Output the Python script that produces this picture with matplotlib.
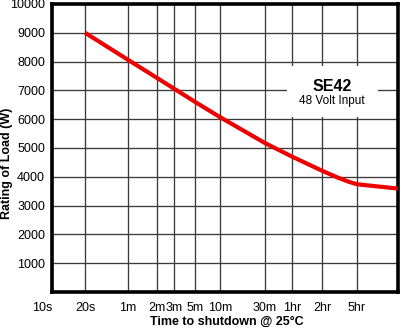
import numpy as np
import matplotlib
matplotlib.use("Agg")
import matplotlib.pyplot as plt
from matplotlib.transforms import ScaledTranslation
from matplotlib.patches import Rectangle

plt.rcParams['font.family'] = ['Liberation Sans', 'DejaVu Sans']

# Runtime (seconds) vs. load rating (W)
time_s = [20, 60, 120, 180, 300, 600, 1800, 3600, 7200, 10800, 14400, 18000, 28800, 43200]
load_w = [9000, 8060, 7430, 7060, 6600, 6070, 5170, 4700, 4210, 3975, 3830, 3740, 3660, 3590]

tick_times = [10, 20, 60, 120, 180, 300, 600, 1800, 3600, 7200, 18000]
tick_labels = ["10s", "20s", "1m", "2m", "3m", "5m", "10m", "30m", "1hr", "2hr", "5hr"]
y_ticks = [1000, 2000, 3000, 4000, 5000, 6000, 7000, 8000, 9000, 10000]

# Time axis: piecewise log scale with hand-tuned spacing between the marks
_knot_t = np.log10([10, 20, 60, 120, 180, 300, 600, 1800, 3600, 7200, 18000, 43200])
_knot_u = np.array([0, 33, 76, 105, 122, 143, 168, 213, 240, 270, 305, 346], float)


def fwd(t):
    t = np.maximum(np.asarray(t, float), 1e-3)
    return np.interp(np.log10(t), _knot_t, _knot_u)


def inv(u):
    return 10 ** np.interp(np.asarray(u, float), _knot_u, _knot_t)


fig = plt.figure(figsize=(4.0, 3.27), dpi=100)
ax = fig.add_axes([0.13, 0.107, 0.865, 0.881])
ax.set_xscale('function', functions=(fwd, inv))
ax.set_xlim(10, 43200)
ax.set_ylim(0, 10000)

ax.set_xticks(tick_times)
ax.set_xticklabels(tick_labels)
ax.set_yticks(y_ticks)
ax.set_yticklabels([str(v) for v in y_ticks])
ax.minorticks_off()
ax.tick_params(axis='both', length=0, labelsize=9, colors='black')
ax.tick_params(axis='x', pad=7)
ax.tick_params(axis='y', pad=5)

# the first time label sits left of the frame
lbl0 = ax.get_xticklabels()[0]
lbl0.set_transform(lbl0.get_transform() + ScaledTranslation(-10 / 100, 0, fig.dpi_scale_trans))

ax.grid(True, color='#3a3a3a', linewidth=0.95)
ax.set_axisbelow(True)

for s in ax.spines.values():
    s.set_linewidth(2.6)
    s.set_color('black')

ax.plot(time_s, load_w, color='#ee0000', linewidth=3.0, solid_joinstyle='round',
        solid_capstyle='butt', zorder=4)

# label panel
ax.add_patch(Rectangle((0.679, 0.608), 0.263, 0.177, transform=ax.transAxes,
                       facecolor='white', edgecolor='none', zorder=2))
ax.text(0.809, 0.712, "SE42", transform=ax.transAxes, ha='center', va='center',
        fontsize=11.5, fontweight='bold', zorder=3)
ax.text(0.809, 0.663, "48 Volt Input", transform=ax.transAxes, ha='center', va='center',
        fontsize=8.5, zorder=3)

ax.set_xlabel("Time to shutdown @ 25\u00b0C", fontsize=9, fontweight='bold')
ax.xaxis.set_label_coords(0.506, -0.104)
ax.xaxis.label.set_va('center')
ax.set_ylabel("Rating of Load (W)", fontsize=9, fontweight='bold')
ax.yaxis.set_label_coords(-0.129, 0.448)
ax.yaxis.label.set_va('center')

fig.savefig("out.png", dpi=100)
